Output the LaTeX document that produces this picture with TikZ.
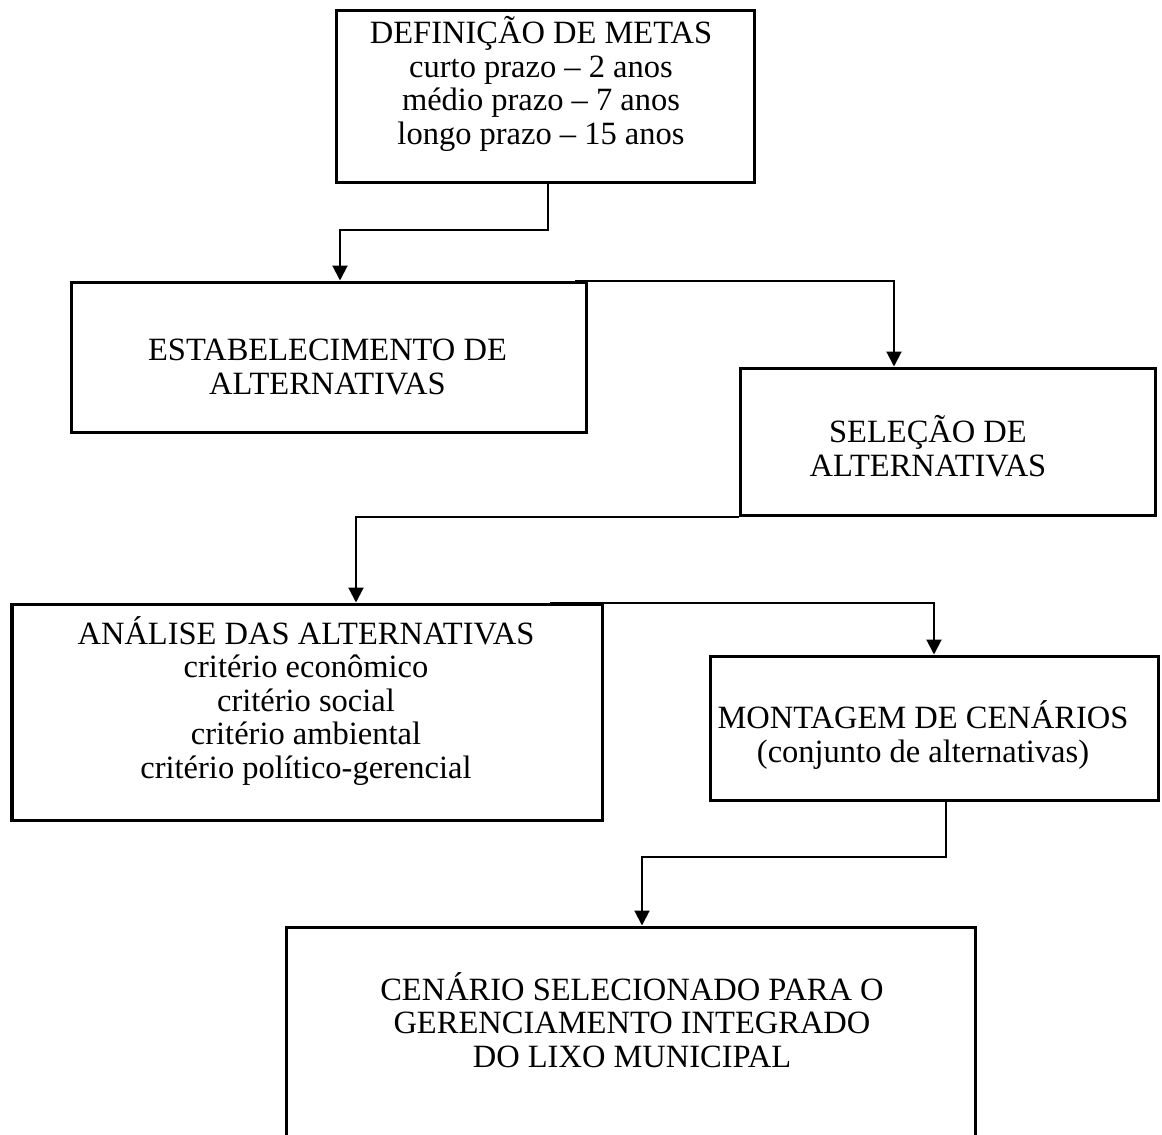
\documentclass[tikz,border=0pt]{standalone}
\usepackage{fontspec}
\setmainfont{Liberation Serif}
\usetikzlibrary{arrows.meta}

\begin{document}
\begin{tikzpicture}[x=0.4pt,y=-0.4pt,>={Triangle[length=6pt,width=6pt]},
  caixa/.style 2 args={draw,line width=1.2pt,inner sep=0pt,minimum width=#1*0.4pt,minimum height=#2*0.4pt},
  texto/.style={align=center,inner sep=0pt,font=\fontsize{13}{13.4}\selectfont},
  liga/.style={line width=0.8pt}]
\clip (0,0) rectangle (1162,1135);
% caixas
\node[caixa={418}{172}] (meta) at (545,96) {};
\node[caixa={515}{150}] (estab) at (328.5,357) {};
\node[caixa={415}{147}] (sel) at (947.5,441.5) {};
\node[caixa={590}{216}] (anal) at (307,712) {};
\node[caixa={448}{144}] (mont) at (934,728) {};
\node[caixa={689}{223}] (cen) at (630.5,1038.5) {};
% textos
\node[texto] (metaT) at (541,84) {DEFINIÇÃO DE METAS\\curto prazo – 2 anos\\médio prazo – 7 anos\\longo prazo – 15 anos};
\node[texto] (estabT) at (327.5,367) {ESTABELECIMENTO DE\\ALTERNATIVAS};
\node[texto] (selT) at (928,446) {SELEÇÃO DE\\ALTERNATIVAS};
\node[texto] (analT) at (306,701) {ANÁLISE DAS ALTERNATIVAS\\critério econômico\\critério social\\critério ambiental\\critério político-gerencial};
\node[texto] (montT) at (923,735) {MONTAGEM DE CENÁRIOS\\(conjunto de alternativas)};
\node[texto] (cenT) at (632,1020) {CENÁRIO SELECIONADO PARA O\\GERENCIAMENTO INTEGRADO\\DO LIXO MUNICIPAL};
% ligacoes
\coordinate (k1a) at (548,230);
\coordinate (k1b) at (340,230);
\draw[liga,->] (meta.south -| k1a) -- (k1a) -- (k1b) -- (k1b |- estab.north);
\coordinate (k2a) at (575,282);
\coordinate (k2b) at (894,282);
\draw[liga,->] (estab.north -| k2a) -- (estab.north -| k2b) -- (sel.north -| k2b);
\coordinate (k3) at (356,515);
\draw[liga,->] (sel.south west) -- (sel.south west -| k3) -- (anal.north -| k3);
\coordinate (k4a) at (550,604);
\coordinate (k4b) at (934,604);
\draw[liga,->] (anal.north -| k4a) -- (anal.north -| k4b) -- (mont.north -| k4b);
\coordinate (k5a) at (946,857);
\coordinate (k5b) at (642,857);
\draw[liga,->] (mont.south -| k5a) -- (k5a) -- (k5b) -- (k5b |- cen.north);
\end{tikzpicture}
\end{document}
